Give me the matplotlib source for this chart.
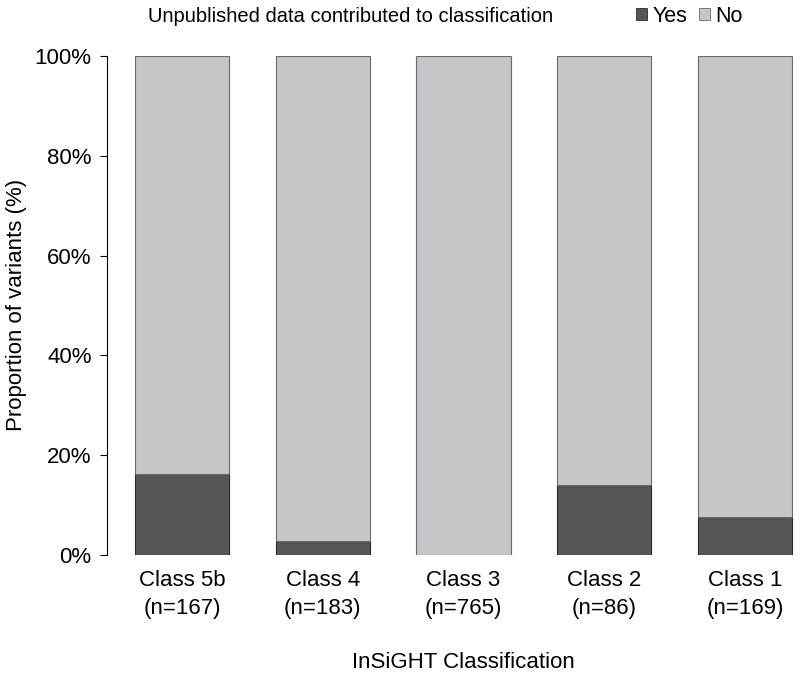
import numpy as np
import matplotlib.pyplot as plt
from matplotlib.patches import Patch

plt.rcParams['font.family'] = ['Liberation Sans', 'DejaVu Sans']

classes = ["Class 5b", "Class 4", "Class 3", "Class 2", "Class 1"]
n_total = [167, 183, 765, 86, 169]
yes_pct = [16.2, 2.8, 0.0, 14.0, 7.6]  # % with unpublished data
no_pct = [100 - v for v in yes_pct]

YES_COL = "#55565a"
NO_COL = "#c5c6ca"

W, H = 800, 679
fig = plt.figure(figsize=(8, 6.79), dpi=100)
ax = fig.add_axes([107 / W, (H - 555) / H, (W - 107) / W, 499 / H])

x = np.arange(len(classes))
ax.bar(x, yes_pct, width=0.67, color=YES_COL, edgecolor="#2a2a2a", linewidth=0.8)
ax.bar(x, no_pct, bottom=yes_pct, width=0.67, color=NO_COL, edgecolor="#6a6a6a", linewidth=0.8)

ax.set_xlim(-0.533, 4.392)
ax.set_ylim(0, 100)
ax.set_yticks([0, 20, 40, 60, 80, 100])
ax.set_yticklabels([f"{v}%" for v in [0, 20, 40, 60, 80, 100]], fontsize=16)
ax.set_xticks(x)
ax.set_xticklabels([f"{c}\n(n={n})" for c, n in zip(classes, n_total)], fontsize=16, linespacing=1.4)
ax.tick_params(axis="x", length=0, pad=11)
ax.tick_params(axis="y", length=5, width=0.8, pad=6)

for s in ["top", "right", "bottom"]:
    ax.spines[s].set_visible(False)
ax.spines["left"].set_linewidth(0.8)

fig.text(17 / W, 1 - 305 / H, "Proportion of variants (%)", fontsize=16,
         rotation=90, ha="center", va="center")
fig.text(463 / W, 1 - 662 / H, "InSiGHT Classification", fontsize=16,
         ha="center", va="center")

fig.text(148 / W, 1 - 16 / H, "Unpublished data contributed to classification",
         fontsize=14.5, ha="left", va="center")
handles = [Patch(facecolor=YES_COL, edgecolor="#2a2a2a", linewidth=0.6),
           Patch(facecolor=NO_COL, edgecolor="#6a6a6a", linewidth=0.6)]
fig.legend(handles, ["Yes", "No"], loc="center left", bbox_to_anchor=(636 / W, 1 - 16 / H),
           ncol=2, frameon=False, fontsize=15.5, handlelength=0.5, handleheight=0.5,
           handletextpad=0.25, columnspacing=0.55, borderpad=0, borderaxespad=0)

fig.savefig("out.png", dpi=100)
